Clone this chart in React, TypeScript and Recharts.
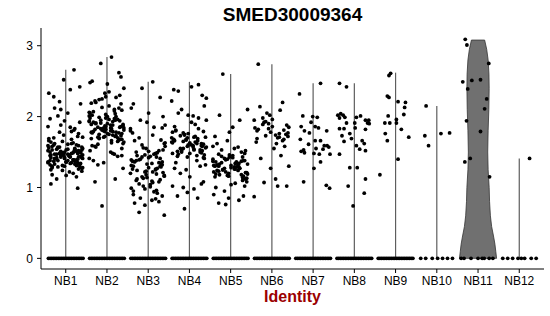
import { ScatterChart, Scatter, XAxis, YAxis } from "recharts";

const clusters = ["NB1", "NB2", "NB3", "NB4", "NB5", "NB6", "NB7", "NB8", "NB9", "NB10", "NB11", "NB12"];
const yTicks = [0, 1, 2, 3];

// top of each (thin) violin
const clusterMax = [2.66, 2.84, 2.49, 2.49, 2.6, 2.74, 2.47, 2.47, 2.62, 2.15, 3.08, 1.41];

// NB11 violin outline: height and half width (in category units)
const violinY = [0, 0.1, 0.2, 0.3, 0.45, 0.6, 0.8, 1.0, 1.25, 1.5, 1.8, 2.1, 2.4, 2.6, 2.8, 2.95, 3.08];
const violinHalf = [0.45, 0.43, 0.41, 0.38, 0.33, 0.3, 0.28, 0.27, 0.245, 0.235, 0.245, 0.262, 0.27, 0.265, 0.245, 0.21, 0.16];

// horizontal jitter used for the crowded clusters
const jitter = [-0.12, 0.31, -0.38, 0.05, 0.22, -0.27, 0.41, -0.03, -0.19, 0.14, 0.36, -0.43, 0.09, -0.33, 0.26, -0.08, 0.18, -0.22, 0.39, 0.01, -0.36, 0.29, -0.15, 0.11, -0.41, 0.34, -0.05, 0.2, -0.29];

const nb1 = [
  1.45, 1.52, 1.38, 1.61, 1.33, 1.47, 1.55, 1.42, 1.29, 1.68,
  1.5, 1.36, 1.44, 1.58, 1.31, 1.49, 1.63, 1.4, 1.27, 1.53,
  1.46, 1.35, 1.57, 1.43, 1.66, 1.32, 1.48, 1.39, 1.6, 1.51,
  1.26, 1.45, 1.54, 1.37, 1.62, 1.41, 1.3, 1.56, 1.48, 1.34,
  1.59, 1.44, 1.28, 1.51, 1.65, 1.39, 1.47, 1.53, 1.36, 1.42,
  1.72, 1.78, 1.85, 1.69, 1.92, 1.74, 1.81, 1.7, 1.88, 1.76,
  1.97, 2.05, 1.83, 2.12, 1.71, 1.94, 2.01, 1.79, 2.18, 1.86,
  1.22, 1.18, 1.15, 1.24, 1.2, 1.12, 1.23, 1.17, 1.05, 0.99,
  2.21, 2.38, 2.33, 2.42, 2.52, 2.66, 2.28, 2.1,
  1.43, 1.5, 1.38, 1.55, 1.33, 1.46, 1.41, 1.57, 1.35, 1.49,
  1.52, 1.44, 1.3, 1.6, 1.47, 1.39, 1.54, 1.42, 1.36, 1.64,
  1.4, 1.48, 1.34, 1.56, 1.29, 1.45, 1.51, 1.37, 1.43, 1.59,
  1.32, 1.47, 1.54, 1.41, 1.28, 1.5, 1.38, 1.62, 1.44, 1.35,
  1.46, 1.53, 1.39, 1.31, 1.49, 1.42, 1.57, 1.36, 1.25, 1.48,
];
const nb2 = [
  1.82, 1.75, 1.93, 1.68, 2.01, 1.88, 1.79, 1.96, 1.71, 2.08,
  1.85, 1.62, 1.9, 1.77, 2.12, 1.83, 1.66, 1.98, 1.73, 1.87,
  2.04, 1.58, 1.81, 1.94, 1.69, 2.15, 1.78, 1.91, 1.64, 1.86,
  1.99, 1.74, 1.55, 2.06, 1.8, 1.92, 1.7, 1.84, 2.1, 1.61,
  1.89, 1.76, 2.02, 1.67, 1.95, 1.83, 1.52, 2.18, 1.79, 1.72,
  2.22, 2.25, 2.3, 2.19, 2.35, 2.27, 2.2, 2.4, 2.28, 2.24,
  1.48, 1.45, 1.41, 1.5, 1.38, 1.44, 1.35, 1.47, 1.32, 1.27,
  2.46, 2.5, 2.62, 2.75, 2.84, 2.48, 2.56, 2.33,
  1.12, 1.08, 0.74,
  1.85, 1.78, 1.96, 1.73, 1.9, 1.81, 2.03, 1.69, 1.88, 1.76,
  1.93, 1.84, 2.07, 1.65, 1.8, 1.97, 1.71, 1.87, 2.0, 1.59,
  1.77, 1.91, 1.63, 2.05, 1.86, 1.72, 1.95, 1.82, 2.13, 1.68,
  1.89, 1.75, 2.0, 1.57, 1.84, 1.98, 1.7, 1.79, 2.09, 1.94,
];
const nb3 = [
  1.35, 1.22, 1.48, 1.05, 1.62, 1.28, 0.95, 1.41, 1.15, 1.74,
  1.31, 0.88, 1.55, 1.19, 1.38, 1.02, 1.67, 1.26, 1.44, 0.92,
  1.12, 1.58, 1.33, 0.85, 1.47, 1.21, 1.8, 1.09, 1.36, 1.52,
  0.98, 1.25, 1.7, 1.16, 1.42, 0.9, 1.3, 1.6, 1.07, 1.39,
  1.84, 1.23, 0.96, 1.5, 1.13, 1.34, 1.77, 1.01, 1.27, 1.45,
  1.88, 1.92, 1.95, 1.85, 2.0, 1.83,
  0.82, 0.78, 0.8, 0.75, 0.84, 0.65, 0.61,
  2.05, 2.18, 2.27, 2.4, 2.49, 2.12,
  1.32, 1.18, 1.43, 1.1, 1.56, 1.29, 1.37, 1.04, 1.49, 1.24,
  1.63, 1.14, 1.4, 0.94, 1.53, 1.2, 1.34, 1.66, 1.08, 1.46,
  1.26, 1.39, 1.17, 1.51, 1.3, 1.11, 1.43, 1.22, 0.99, 1.36,
];
const nb4 = [
  1.62, 1.55, 1.71, 1.48, 1.79, 1.58, 1.66, 1.44, 1.74, 1.52,
  1.68, 1.6, 1.83, 1.47, 1.57, 1.76, 1.5, 1.64, 1.41, 1.7,
  1.59, 1.81, 1.53, 1.67, 1.45, 1.73, 1.56, 1.63, 1.86, 1.49,
  1.65, 1.54, 1.78, 1.61, 1.43, 1.69, 1.51, 1.75, 1.58, 1.66,
  1.92, 1.98, 2.05, 1.95, 2.02, 2.1, 1.89, 2.15, 2.22, 2.01,
  1.35, 1.3, 1.25, 1.38, 1.2, 1.32, 1.15, 1.27,
  1.05, 1.0, 0.98, 1.02, 1.08, 0.93, 0.85, 0.88, 0.7,
  2.3, 2.38, 2.42, 2.45, 2.36, 2.26,
  1.6, 1.52, 1.72, 1.46, 1.64, 1.57, 1.8, 1.5, 1.68, 1.62,
  1.55, 1.71, 1.48, 1.66, 1.59, 1.77, 1.53, 1.63, 1.42, 1.7,
];
const nb5 = [
  1.3, 1.22, 1.38, 1.15, 1.42, 1.27, 1.33, 1.19, 1.46, 1.25,
  1.35, 1.12, 1.4, 1.29, 1.24, 1.37, 1.17, 1.32, 1.44, 1.21,
  1.28, 1.36, 1.14, 1.41, 1.26, 1.31, 1.48, 1.2, 1.34, 1.23,
  1.39, 1.16, 1.3, 1.45, 1.27, 1.18, 1.33, 1.43, 1.25, 1.36,
  1.52, 1.58, 1.55, 1.62, 1.5, 1.66, 1.57, 1.53,
  1.08, 1.04, 1.0, 1.1, 0.95, 1.06, 0.9, 1.02,
  0.85, 0.82, 0.78, 0.76, 0.88,
  1.72, 1.85, 1.95, 2.02, 2.1, 1.78,
  2.6,
  1.29, 1.21, 1.37, 1.26, 1.32, 1.18, 1.4, 1.24, 1.35, 1.13,
  1.31, 1.19, 1.43, 1.27, 1.34, 1.22, 1.38, 1.16, 1.29, 1.47,
];
const nb6 = [
  1.85, 1.78, 1.92, 1.7, 1.88, 1.95, 1.74, 1.82, 1.66, 1.9,
  1.76, 1.98, 1.72, 1.86, 1.8, 1.68, 1.93, 1.62, 1.84, 1.75,
  2.02, 2.09, 2.14, 2.05, 1.58, 1.64, 1.55,
  1.45, 1.41, 1.3, 1.27, 1.07, 1.02, 1.02, 0.87, 1.12,
  2.74, 2.2,
  1.83, 1.71, 1.89, 1.77, 1.96, 1.69, 1.81, 1.73,
];

// sparse clusters: [offset, value]
const nb7: [number, number][] = [
  [-0.33, 2.32], [0.18, 2.47], [-0.25, 2.01], [-0.01, 2.0], [0.1, 1.99], [-0.29, 1.86], [-0.21, 1.8], [-0.05, 1.92],
  [0.05, 1.86], [0.13, 1.84], [0.33, 1.8], [-0.09, 1.77], [-0.31, 1.68], [-0.11, 1.61], [0.05, 1.66], [0.18, 1.66],
  [0.27, 1.59], [0.34, 1.59], [0.38, 1.57], [0.24, 1.54], [0.07, 1.55], [-0.29, 1.51], [-0.23, 1.53], [-0.21, 1.49],
  [0.02, 1.48], [0.15, 1.47], [0.41, 1.47], [0.18, 1.36], [0.02, 1.27], [-0.23, 1.08], [0.32, 1.03], [0.4, 0.99],
];
const nb8: [number, number][] = [
  [-0.36, 2.47], [-0.19, 2.42], [-0.4, 2.02], [-0.33, 2.04], [-0.27, 2.02], [-0.23, 1.99], [-0.19, 1.91], [-0.36, 1.98],
  [0.05, 1.99], [0.15, 2.01], [0.27, 1.95], [0.35, 1.95], [0.32, 1.91], [0.36, 1.9], [-0.36, 1.83], [-0.25, 1.83],
  [0.01, 1.91], [0.02, 1.84], [0.27, 1.82], [-0.11, 1.76], [-0.3, 1.73], [-0.07, 1.69], [-0.25, 1.65], [0.19, 1.66],
  [0.24, 1.62], [0.05, 1.59], [0.13, 1.54], [0.27, 1.52], [-0.36, 1.47], [-0.11, 1.28], [0.07, 1.28], [-0.15, 1.02],
  [0.27, 1.12], [0.24, 0.92], [-0.03, 0.74],
];
const nb9: [number, number][] = [
  [-0.12, 2.61], [-0.16, 2.58], [-0.2, 2.29], [-0.16, 2.27], [0.06, 2.21], [0.24, 2.2], [0.22, 2.13], [0.2, 2.03],
  [-0.18, 2.01], [-0.26, 1.91], [-0.14, 1.91], [0.02, 1.96], [0.02, 1.91], [0.14, 1.82], [0.32, 1.71], [-0.25, 1.76],
  [-0.2, 1.66], [0.06, 1.4], [-0.38, 1.18],
];
const nb10: [number, number][] = [[-0.26, 2.15], [-0.29, 1.73], [-0.2, 1.59], [0.1, 1.76], [0.31, 1.77]];
const nb11: [number, number][] = [
  [-0.31, 3.09], [-0.27, 3.01], [0.26, 2.75], [-0.37, 2.49], [-0.15, 2.51], [0.06, 2.52], [-0.25, 2.39],
  [0.21, 2.25], [0.16, 2.11], [-0.28, 1.94], [0.06, 1.79], [-0.19, 1.41], [-0.32, 1.36], [0.28, 1.15],
];
const nb12: [number, number][] = [[0.25, 1.41]];

// cells with zero expression (offsets along the zero row)
const zeroDense = [-0.42, -0.38, -0.34, -0.3, -0.26, -0.22, -0.18, -0.14, -0.1, -0.06, -0.02, 0.02, 0.06, 0.1, 0.14, 0.18, 0.22, 0.26, 0.3, 0.34, 0.38, 0.42];
const zeroNB10 = [-0.39, -0.27, -0.11, 0.02, 0.14, 0.26, 0.38];
const zeroNB11 = [-0.41, -0.34, -0.17, 0, 0.1, 0.15, 0.27, 0.36];
const zeroNB12 = [-0.4, -0.28, -0.16, -0.03, 0.05, 0.13, 0.29, 0.41];

const denseSets = [nb1, nb2, nb3, nb4, nb5, nb6];
const sparseSets = [nb7, nb8, nb9, nb10, nb11, nb12];
const zeroSets = [zeroDense, zeroDense, zeroDense, zeroDense, zeroDense, zeroDense, zeroDense, zeroDense, zeroDense, zeroNB10, zeroNB11, zeroNB12];

const points: { x: number; y: number }[] = [];
zeroSets.forEach((offs, k) => offs.forEach((d) => points.push({ x: k + 1 + d, y: 0 })));
denseSets.forEach((vals, k) =>
  vals.forEach((v, i) => points.push({ x: k + 1 + jitter[(i + k * 7) % jitter.length], y: v }))
);
sparseSets.forEach((pairs, k) => pairs.forEach(([d, v]) => points.push({ x: k + 7 + d, y: v })));

const violinOutline = [
  ...violinY.map((y, i) => ({ x: 11 - violinHalf[i], y })),
  ...violinY.map((y, i) => ({ x: 11 + violinHalf[i], y })).reverse(),
];
violinOutline.push(violinOutline[0]);

const font = "'Liberation Sans', Arial, sans-serif";
const axisTick = { fill: "#000", fontSize: 12, fontFamily: font };

const Dot = (p: any) => <circle cx={p.cx} cy={p.cy} r={1.9} fill="#000" />;
const NoDot = () => <g />;

export default function App() {
  return (
    <div style={{ position: "absolute", left: 0, top: 0, width: 550, height: 316, background: "#fff" }}>
      <div
        style={{
          position: "absolute", left: 0, top: 5, width: 585, textAlign: "center",
          fontFamily: font, fontWeight: "bold", fontSize: 19, lineHeight: "19px", color: "#000",
        }}
      >
        SMED30009364
      </div>
      <ScatterChart width={550} height={316} margin={{ top: 28, right: 6, bottom: 17, left: 0 }}>
        <XAxis
          type="number"
          dataKey="x"
          domain={[0.4, 12.6]}
          allowDataOverflow
          ticks={clusters.map((_, i) => i + 1)}
          interval={0}
          tickFormatter={(v: number) => clusters[v - 1]}
          height={30}
          tickSize={4}
          tickMargin={3}
          tick={axisTick}
          axisLine={{ stroke: "#000" }}
          tickLine={{ stroke: "#000" }}
        />
        <YAxis
          type="number"
          dataKey="y"
          domain={[-0.15, 3.25]}
          allowDataOverflow
          ticks={yTicks}
          interval={0}
          width={41}
          tickSize={4}
          tickMargin={4}
          tick={axisTick}
          axisLine={{ stroke: "#000" }}
          tickLine={{ stroke: "#000" }}
        />
        <Scatter
          data={violinOutline}
          isAnimationActive={false}
          line={{ stroke: "#333", strokeWidth: 0.8, fill: "#707070" }}
          shape={NoDot}
        />
        {clusterMax.map((m, i) =>
          i === 10 ? null : (
            <Scatter
              key={clusters[i]}
              data={[{ x: i + 1, y: 0 }, { x: i + 1, y: m }]}
              isAnimationActive={false}
              line={{ stroke: "#5e5e5e", strokeWidth: 1.2 }}
              shape={NoDot}
            />
          )
        )}
        <Scatter data={points} isAnimationActive={false} shape={Dot} />
      </ScatterChart>
      <div
        style={{
          position: "absolute", left: 0, top: 289, width: 585, textAlign: "center",
          fontFamily: font, fontWeight: "bold", fontSize: 16, lineHeight: "16px", color: "#9b0000",
        }}
      >
        Identity
      </div>
    </div>
  );
}
